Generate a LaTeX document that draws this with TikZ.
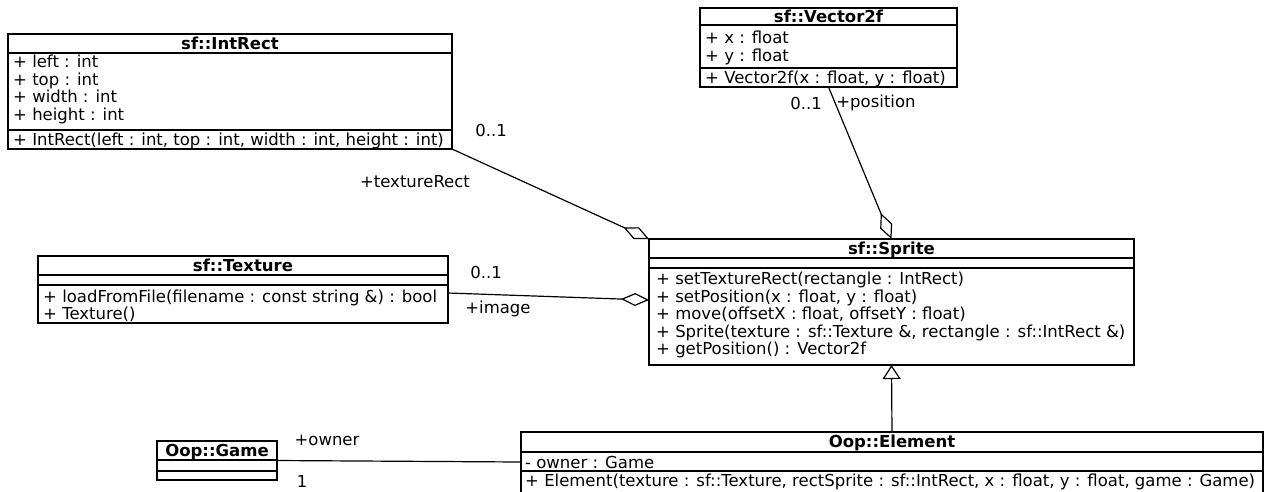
\documentclass[tikz,border=0pt]{standalone}
\usepackage{fontspec}
\setmainfont{DejaVu Sans}
\usetikzlibrary{arrows.meta}
\usetikzlibrary{calc}

\begin{document}
\begin{tikzpicture}[x=1pt,y=1pt,yscale=-1,xscale=1,
  classbox/.style={draw,line width=1.2pt,anchor=north west,inner sep=0pt,outer sep=0pt},
  classname/.style={font=\fontsize{16.5}{17.4}\selectfont\bfseries,anchor=base,inner sep=0pt},
  member/.style={font=\fontsize{16.5}{17.4}\selectfont,anchor=base west,inner sep=0pt},
  rolelabel/.style={font=\fontsize{16.5}{17.4}\selectfont,inner sep=0pt},
  sepline/.style={line width=1.2pt},
  aggregation/.style={line width=1.2pt,-{Diamond[open,length=28pt,width=13pt]}},
  generalization/.style={line width=1.2pt,-{Triangle[open,length=14pt,width=18pt]}},
  association/.style={line width=1.2pt}]
\useasboundingbox (0,0) rectangle (1266,491);

%Class: sf::IntRect
\node[classbox,minimum width=444pt,minimum height=115pt] (intrect) at (8,34) {};
\draw[sepline] (8,53) -- (452,53);
\draw[sepline] (8,130) -- (452,130);
\node[classname] (intrect-name) at (230,49.5) {sf::IntRect};
\node[member] (intrect-left) at (13,67.5) {+ left : int};
\node[member] (intrect-top) at (13,85) {+ top : int};
\node[member] (intrect-width) at (13,102.5) {+ width : int};
\node[member] (intrect-height) at (13,120) {+ height : int};
\node[member] (intrect-ctor) at (13,145) {+ IntRect(left : int, top : int, width : int, height : int)};

%Class: sf::Vector2f
\node[classbox,minimum width=257pt,minimum height=79pt] (vector) at (700,8) {};
\draw[sepline] (700,25) -- (957,25);
\draw[sepline] (700,68) -- (957,68);
\node[classname] (vector-name) at (828.5,22.5) {sf::Vector2f};
\node[member] (vector-x) at (705,43.5) {+ x : float};
\node[member] (vector-y) at (705,61) {+ y : float};
\node[member] (vector-ctor) at (705,83) {+ Vector2f(x : float, y : float)};

%Class: sf::Texture
\node[classbox,minimum width=410pt,minimum height=67pt] (texture) at (38,256) {};
\draw[sepline] (38,275) -- (448,275);
\draw[sepline] (38,285) -- (448,285);
\node[classname] (texture-name) at (243,271.5) {sf::Texture};
\node[member] (texture-load) at (43,302) {+ loadFromFile(filename : const string \&) : bool};
\node[member] (texture-ctor) at (43,319.5) {+ Texture()};

%Class: sf::Sprite
\node[classbox,minimum width=485pt,minimum height=126pt] (sprite) at (649,239) {};
\draw[sepline] (649,258) -- (1134,258);
\draw[sepline] (649,268) -- (1134,268);
\node[classname] (sprite-name) at (891.5,254) {sf::Sprite};
\node[member] (sprite-rect) at (656,284.5) {+ setTextureRect(rectangle : IntRect)};
\node[member] (sprite-setpos) at (656,302) {+ setPosition(x : float, y : float)};
\node[member] (sprite-move) at (656,319.5) {+ move(offsetX : float, offsetY : float)};
\node[member] (sprite-ctor) at (656,337) {+ Sprite(texture : sf::Texture \&, rectangle : sf::IntRect \&)};
\node[member] (sprite-getpos) at (656,354.5) {+ getPosition() : Vector2f};

%Class: Oop::Game
\node[classbox,minimum width=120pt,minimum height=39pt] (game) at (157,441) {};
\draw[sepline] (157,460) -- (277,460);
\draw[sepline] (157,471) -- (277,471);
\node[classname] (game-name) at (217,456) {Oop::Game};

%Class: Oop::Element (bottom edge lies past the page)
\node[classbox,minimum width=742pt,minimum height=62pt] (element) at (521,432) {};
\draw[sepline] (521,452) -- (1263,452);
\draw[sepline] (521,471) -- (1263,471);
\node[classname] (element-name) at (892,447.5) {Oop::Element};
\node[member] (element-owner) at (525,468) {- owner : Game};
\node[member] (element-ctor) at (525,486.5) {+ Element(texture : sf::Texture, rectSprite : sf::IntRect, x : float, y : float, game : Game)};

%Relations
\draw[aggregation] (intrect.south east) -- (sprite.north west);
\draw[aggregation] ($(texture.east)+(0,3.5)$) -- ($(sprite.west)+(0,-2)$);
\draw[aggregation] (vector.south) -- (sprite.north);
\draw[generalization] (element.north) -- (sprite.south);
\draw[association] (game.east) -- ($(element.west)+(0,-1)$);

%Role labels
\node[rolelabel] (rect-mult) at (491,130) {0..1};
\node[rolelabel] (rect-role) at (415,182) {+textureRect};
\node[rolelabel] (image-mult) at (486,272) {0..1};
\node[rolelabel] (image-role) at (498,309) {+image};
\node[rolelabel] (pos-mult) at (806,103) {0..1};
\node[rolelabel] (pos-role) at (876,103) {+position};
\node[rolelabel] (owner-role) at (327,440) {+owner};
\node[rolelabel] (owner-mult) at (302,481) {1};

\end{tikzpicture}
\end{document}
